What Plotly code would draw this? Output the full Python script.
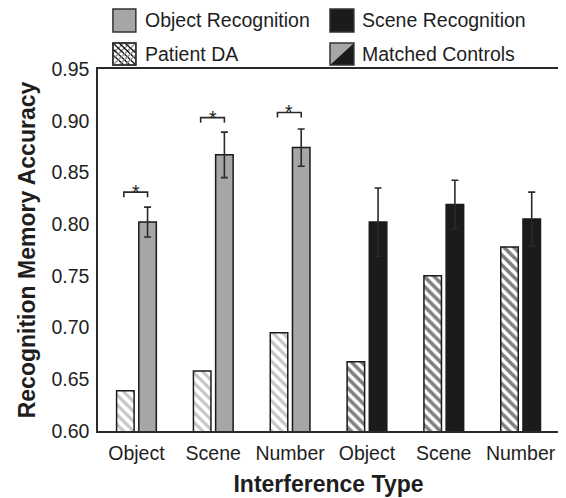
import plotly.graph_objects as go

# ---------------- data ----------------
interference = ["Object", "Scene", "Number", "Object", "Scene", "Number"]
patient_da = [0.639, 0.658, 0.695, 0.667, 0.750, 0.778]
controls = [0.802, 0.867, 0.874, 0.802, 0.819, 0.805]
controls_err = [0.0145, 0.022, 0.018, 0.033, 0.0235, 0.026]
object_idx = [0, 1, 2]
scene_idx = [3, 4, 5]
sig_groups = [0, 1, 2]
sig_y = [0.831, 0.903, 0.908]
y_ticks = [0.60, 0.65, 0.70, 0.75, 0.80, 0.85, 0.90, 0.95]

# ---------------- style ----------------
# the page body adds an 8px offset, so the figure is drawn 8px smaller
OFS = 8
W, H = 566 - OFS, 498 - OFS
L, R, T, B = 98 - OFS, 5, 69 - OFS, 67
PW, PH = W - L - R, H - T - B
FONT = "Arial, Liberation Sans, sans-serif"
GRAY = "#a6a6a6"
DARK = "#1b1b1b"
EDGE = "#1a1a1a"
TXT = "#1e1e1e"
FS = 19.5
BW = 0.228
OFF_DA = -0.258
OFF_C = 0.031


def px(xp):
    # xp: pixel in the screenshot
    return (xp - OFS - L) / PW


def py(yp):
    return (T + PH - (yp - OFS)) / PH


fig = go.Figure()


def sub(lst, idx):
    return [lst[i] for i in idx]


# patient DA bars (hatched)
for idx, fg, sol in ((object_idx, "#8c8c8c", 0.45), (scene_idx, "#000000", 0.52)):
    fig.add_trace(go.Bar(
        x=idx, y=sub(patient_da, idx), width=BW, offset=OFF_DA,
        marker=dict(color="white", line=dict(color=EDGE, width=1.5),
                    pattern=dict(shape="\\", fgcolor=fg, bgcolor="white",
                                 size=7, solidity=sol, fillmode="overlay")),
        showlegend=False, hoverinfo="y"))

# matched controls bars
for idx, col in ((object_idx, GRAY), (scene_idx, DARK)):
    fig.add_trace(go.Bar(
        x=idx, y=sub(controls, idx), width=BW, offset=OFF_C,
        marker=dict(color=col, line=dict(color=EDGE, width=1.5)),
        error_y=dict(type="data", array=sub(controls_err, idx), visible=True,
                     color="#2a2a2a", thickness=1.6, width=3.5),
        showlegend=False, hoverinfo="y"))

shapes = []
annotations = []

# significance brackets
tick = 0.005
for g, yv in zip(sig_groups, sig_y):
    x0 = g + OFF_DA + BW / 2 - 0.02
    x1 = g + OFF_C + BW / 2
    shapes.append(dict(type="path", xref="x", yref="y",
                       path=f"M {x0} {yv - tick} L {x0} {yv} L {x1} {yv} L {x1} {yv - tick}",
                       line=dict(color="#2a2a2a", width=1.6)))
    annotations.append(dict(x=(x0 + x1) / 2, y=yv, xref="x", yref="y",
                            text="*", showarrow=False, yanchor="middle",
                            font=dict(family=FONT, size=FS, color=TXT)))


# ---------------- custom legend ----------------
def box(x0, y0, x1, y1, fill, width=1.5):
    return dict(type="rect", xref="paper", yref="paper",
                x0=px(x0), x1=px(x1), y0=py(y1), y1=py(y0),
                fillcolor=fill, line=dict(color="#333333", width=width), layer="above")


def seg(xa, ya, xb, yb, col, width=1.3):
    return dict(type="line", xref="paper", yref="paper",
                x0=px(xa), y0=py(ya), x1=px(xb), y1=py(yb),
                line=dict(color=col, width=width), layer="above")


# Object Recognition
shapes.append(box(113, 9, 136, 32, GRAY))
# Scene Recognition
shapes.append(box(331, 9, 355, 32, DARK))
# Patient DA (cross hatched)
bx0, by0, bx1, by1 = 113, 43, 136, 65
shapes.append(box(bx0, by0, bx1, by1, "white"))
for k in (-12, -6, 0, 6, 12):
    xa, ya = bx0 + max(k, 0), by0 + max(-k, 0)
    xb, yb = bx1 - max(-k, 0), by1 - max(k, 0)
    shapes.append(seg(xa, ya, xb, yb, "#111111"))
    xa2, ya2 = bx0 + max(k, 0), by1 - max(-k, 0)
    xb2, yb2 = bx1 - max(-k, 0), by0 + max(k, 0)
    shapes.append(seg(xa2, ya2, xb2, yb2, "#8c8c8c"))
shapes.append(box(bx0, by0, bx1, by1, "rgba(0,0,0,0)"))
# Matched Controls (split diagonal)
mx0, my0, mx1, my1 = 331, 43, 355, 65
shapes.append(dict(type="path", xref="paper", yref="paper",
                   path=f"M {px(mx0)} {py(my0)} L {px(mx1)} {py(my0)} L {px(mx0)} {py(my1)} Z",
                   fillcolor=GRAY, line=dict(width=0), layer="above"))
shapes.append(dict(type="path", xref="paper", yref="paper",
                   path=f"M {px(mx1)} {py(my0)} L {px(mx1)} {py(my1)} L {px(mx0)} {py(my1)} Z",
                   fillcolor=DARK, line=dict(width=0), layer="above"))
shapes.append(box(mx0, my0, mx1, my1, "rgba(0,0,0,0)"))

for text, x, y in (("Object Recognition", 143, 20), ("Scene Recognition", 361, 20),
                   ("Patient DA", 143, 54), ("Matched Controls", 361, 54)):
    annotations.append(dict(x=px(x), y=py(y), xref="paper", yref="paper",
                            text=text, showarrow=False, xanchor="left", yanchor="middle",
                            font=dict(family=FONT, size=FS, color=TXT)))

fig.update_layout(
    width=W, height=H,
    margin=dict(l=L, r=R, t=T, b=B),
    paper_bgcolor="white", plot_bgcolor="white",
    barmode="overlay",
    showlegend=False,
    font=dict(family=FONT, size=FS, color=TXT),
    shapes=shapes, annotations=annotations,
    xaxis=dict(range=[-0.5, 5.5], tickmode="array", tickvals=list(range(6)),
               ticktext=interference, showgrid=False, zeroline=False,
               showline=True, mirror=True, linecolor="#2a2a2a", linewidth=1.5,
               ticks="", tickfont=dict(size=FS, color=TXT), ticklabelstandoff=4,
               ticklabeloverflow="allow",
               title=dict(text="<b>Interference Type</b>", font=dict(size=23, color=TXT),
                          standoff=13)),
    yaxis=dict(range=[0.60, 0.95], tickmode="array", tickvals=y_ticks,
               tickformat=".2f", showgrid=False, zeroline=False,
               showline=True, mirror=True, linecolor="#2a2a2a", linewidth=1.5,
               ticks="", tickfont=dict(size=FS, color=TXT), ticklabelstandoff=3,
               title=dict(text="<b>Recognition Memory Accuracy</b>",
                          font=dict(size=23, color=TXT), standoff=9)),
)

fig.write_html("out.html")
